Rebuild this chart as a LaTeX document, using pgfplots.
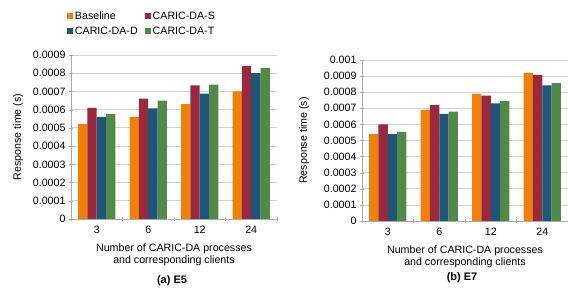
\documentclass[border=0pt]{standalone}
\usepackage{pgfplots}
\pgfplotsset{compat=1.18}
\usepackage{fontspec}
\setmainfont{Liberation Sans}
\definecolor{cBase}{RGB}{240,128,10}
\definecolor{cS}{RGB}{155,40,60}
\definecolor{cD}{RGB}{30,85,120}
\definecolor{cT}{RGB}{80,138,70}
\definecolor{gridc}{RGB}{210,210,210}
\definecolor{axc}{RGB}{170,170,170}
\pgfplotsset{
  myax/.style={
    scale only axis, width=206bp, anchor=south west,
    font=\fontsize{10.7}{12.8}\selectfont,
    ybar=0pt, bar width=9.3bp,
    xmin=-0.5, xmax=3.5, ymin=0,
    xtick={0,1,2,3}, xticklabels={3,6,12,24},
    minor xtick={-0.5,0.5,1.5,2.5,3.5},
    major x tick style={draw=none},
    minor tick length=4bp, major tick length=4bp,
    tick align=outside,
    x tick style={axc}, y tick style={axc},
    axis lines=left, axis line style={axc, -},
    ymajorgrids, grid style={gridc, line width=0.8pt},
    yticklabel={\pgfmathprintnumber[fixed,precision=4,assume math mode=true]{\tick}},
    scaled y ticks=false,
    ylabel={Response time (s)},
    xlabel={Number of CARIC-DA processes\\and corresponding clients},
    xlabel style={align=center, yshift=-3bp},
    ylabel style={yshift=3bp},
    xticklabel style={yshift=-1.5bp},
    tick label style={black},
    every axis plot/.append style={draw=none},
  }
}
\begin{document}
\begin{tikzpicture}
\useasboundingbox (0,0) rectangle (568bp,288bp);
\begin{axis}[myax, at={(71bp,69bp)}, height=164bp, ymax=0.0009,
  ytick={0,0.0001,...,0.00091},
  legend columns=2,
  legend style={draw=none, fill=none, at={(rel axis cs:-0.035,1.29)}, anchor=north west,
    font=\fontsize{10.7}{12.8}\selectfont, row sep=2bp,
    /tikz/every even column/.append style={column sep=5bp}},
  legend cell align=left,
  legend image code/.code={\fill[#1] (0bp,-2.5bp) rectangle (6bp,3.5bp);},
]
\addplot[fill=cBase] coordinates {(0,0.00052) (1,0.00056) (2,0.00063) (3,0.00070)};
\addplot[fill=cS] coordinates {(0,0.00061) (1,0.00066) (2,0.000733) (3,0.00084)};
\addplot[fill=cD] coordinates {(0,0.00056) (1,0.000607) (2,0.000688) (3,0.00080)};
\addplot[fill=cT] coordinates {(0,0.000575) (1,0.00065) (2,0.000737) (3,0.00083)};
\legend{Baseline, CARIC-DA-S, CARIC-DA-D, CARIC-DA-T}
\end{axis}
\begin{axis}[myax, at={(362bp,67bp)}, height=161bp, ymax=0.001,
  ytick={0,0.0001,...,0.00101},
  ylabel style={yshift=5bp},
]
\addplot[fill=cBase] coordinates {(0,0.00054) (1,0.00069) (2,0.00079) (3,0.00092)};
\addplot[fill=cS] coordinates {(0,0.00060) (1,0.00072) (2,0.000778) (3,0.000907)};
\addplot[fill=cD] coordinates {(0,0.00054) (1,0.000665) (2,0.00073) (3,0.000843)};
\addplot[fill=cT] coordinates {(0,0.000553) (1,0.00068) (2,0.000745) (3,0.000857)};
\end{axis}
\node[font=\bfseries\fontsize{11}{13}\selectfont] at (172bp,7bp) {(a) E5};
\node[font=\bfseries\fontsize{11}{13}\selectfont] at (462bp,10bp) {(b) E7};
\end{tikzpicture}
\end{document}
